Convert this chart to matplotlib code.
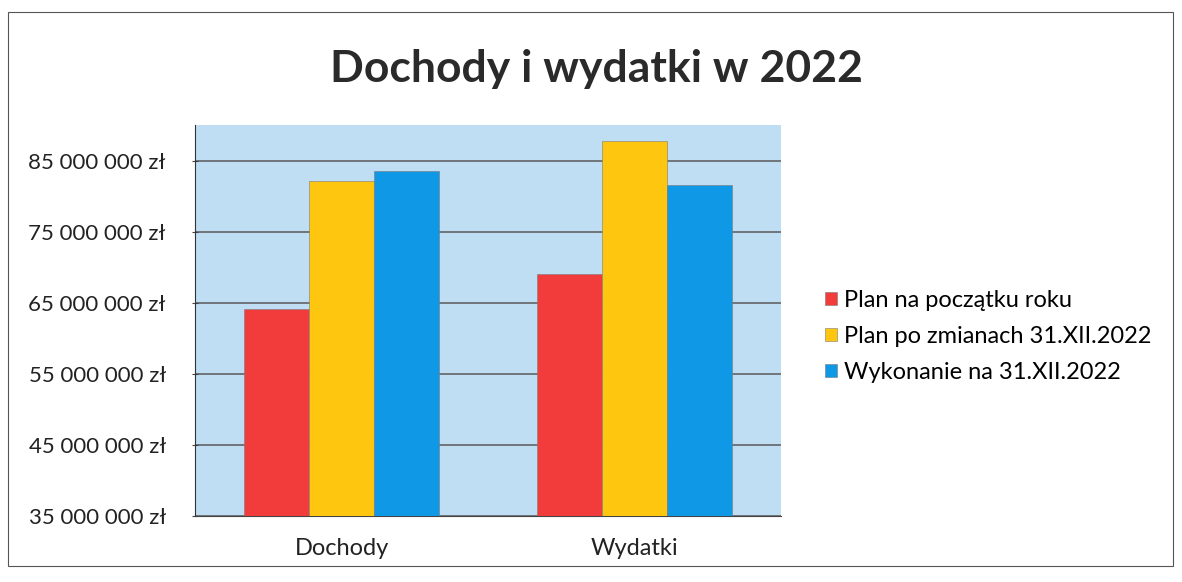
import numpy as np
import matplotlib.pyplot as plt
from matplotlib.patches import Rectangle

plt.rcParams['font.family'] = ['Lato', 'DejaVu Sans']

categories = ['Dochody', 'Wydatki']
series_names = ['Plan na początku roku', 'Plan po zmianach 31.XII.2022', 'Wykonanie na 31.XII.2022']
plan_start = [64.2e6, 69.0e6]
plan_changed = [82.1e6, 87.7e6]
executed = [83.5e6, 81.6e6]
yticks = [35e6, 45e6, 55e6, 65e6, 75e6, 85e6]

colors = ['#F23B3B', '#FFC60F', '#0E98E6']

fig = plt.figure(figsize=(11.82, 5.82), dpi=100)
ax = fig.add_axes([0.165, 0.113, 0.496, 0.672])
ax.set_facecolor('#BFDDF3')

x = np.arange(len(categories))
w = 1 / 4.5
for i, (vals, c, name) in enumerate(zip([plan_start, plan_changed, executed], colors, series_names)):
    ax.bar(x + (i - 1) * w, vals, width=w, color=c, edgecolor='#7a7a7a', linewidth=0.4,
           label=name, zorder=3)

ax.set_ylim(35e6, 90e6)
ax.set_xlim(-0.5, 1.5)
ax.set_yticks(yticks)
ax.set_yticklabels([f'{int(v):,} zł'.replace(',', ' ') for v in yticks], fontsize=16, color='#222222')
ax.set_xticks(x)
ax.set_xticklabels(categories, fontsize=17, color='#222222')
ax.tick_params(axis='x', length=0, pad=16)
ax.tick_params(axis='y', length=4, direction='inout', pad=19, color='#444444')
ax.grid(axis='y', color='#5a5a5a', linewidth=1.1, zorder=1)
for s in ['top', 'right']:
    ax.spines[s].set_visible(False)
ax.spines['left'].set_color('#333333')
ax.spines['bottom'].set_color('#444444')

fig.text(0.505, 0.882, 'Dochody i wydatki w 2022', ha='center', va='center',
         fontsize=32, fontweight='bold', color='#2a2a2a')

fig.legend(loc='center left', bbox_to_anchor=(0.68, 0.422), frameon=False, fontsize=17,
           handlelength=0.5, handleheight=0.5, handletextpad=0.3, labelspacing=0.64)

fig.patches.append(Rectangle((0.007, 0.028), 0.985, 0.952, transform=fig.transFigure,
                             fill=False, edgecolor='#555555', linewidth=0.8))

fig.savefig('out.png', dpi=100)
